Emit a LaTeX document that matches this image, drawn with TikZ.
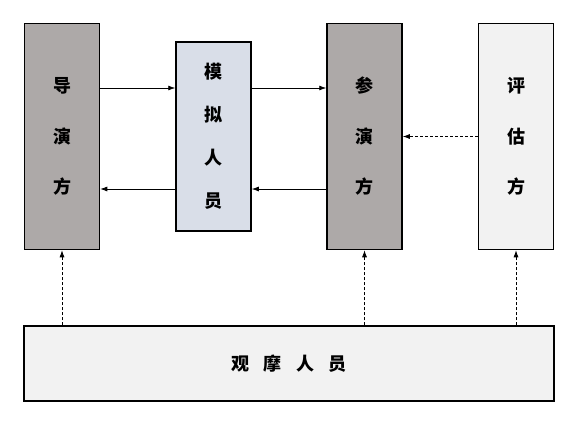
\documentclass[tikz,border=0pt]{standalone}
\usepackage{fontspec}
\usepackage{xcolor}
\usetikzlibrary{arrows.meta}
\newfontfamily\cjk{Noto Sans CJK SC}
\definecolor{darkbox}{HTML}{ADA9A8}
\definecolor{bluebox}{HTML}{D9DEE8}
\definecolor{lightbox}{HTML}{F2F2F2}

\begin{document}
\begin{tikzpicture}[x=1pt,y=-1pt,
    tallbox/.style={draw,line width=1.5pt,minimum width=75pt,minimum height=226pt,align=center,
        font=\cjk\bfseries\fontsize{18}{50.5}\selectfont},
    flow/.style={-{Latex[length=7pt,width=5pt]},line width=0.8pt},
    watch/.style={flow,dash pattern=on 3pt off 2pt}]
    \useasboundingbox (0,0) rectangle (575,423);
    % Parties
    \node[tallbox,fill=darkbox] (daoyan) at (62,136.5) {导\\演\\方};
    \node[tallbox,fill=bluebox,minimum height=189pt,
        font=\cjk\bfseries\fontsize{18}{43}\selectfont] (moni) at (213.5,136.5) {模\\拟\\人\\员};
    \node[tallbox,fill=darkbox] (canyan) at (364.5,136.5) {参\\演\\方};
    \node[tallbox,fill=lightbox] (pinggu) at (516,136.5) {评\\估\\方};
    \node[draw,line width=1.5pt,fill=lightbox,minimum width=530pt,minimum height=75pt,
        font=\cjk\bfseries\fontsize{18}{18}\selectfont] (guanmo) at (289,363.5)
        {观\hspace{0.8em}摩\hspace{0.8em}人\hspace{0.8em}员};
    % Links
    \draw[flow] ([yshift=48.5pt]daoyan.east) -- ([yshift=48.5pt]daoyan.east -| moni.west);
    \draw[flow] ([yshift=48.5pt]moni.east -| moni.east) -- ([yshift=48.5pt]canyan.west);
    \draw[flow] ([yshift=-52.5pt]moni.west -| moni.west) -- ([yshift=-52.5pt]daoyan.east);
    \draw[flow] ([yshift=-52.5pt]canyan.west) -- ([yshift=-52.5pt]canyan.west -| moni.east);
    \draw[watch] (pinggu.west) -- (canyan.east);
    \draw[watch] (daoyan.south |- guanmo.north) -- (daoyan.south);
    \draw[watch] (canyan.south |- guanmo.north) -- (canyan.south);
    \draw[watch] (pinggu.south |- guanmo.north) -- (pinggu.south);
\end{tikzpicture}
\end{document}
